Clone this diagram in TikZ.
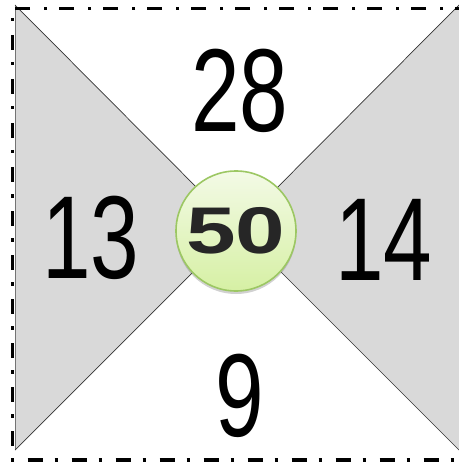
\documentclass[tikz,border=0pt]{standalone}
\usepackage{fontspec}
\setmainfont{Liberation Sans}
\usetikzlibrary{shadows,shadings}
\definecolor{panelgray}{HTML}{D9D9D9}
\definecolor{ringgreen}{HTML}{9CC763}
\definecolor{ballTop}{HTML}{F3FAE6}
\definecolor{ballBot}{HTML}{D6F0A4}
\tikzset{
  numlabel/.style={font=\fontsize{118}{118}\selectfont, xscale=0.74, inner sep=0pt, text=black},
  ball/.style={circle, minimum size=120pt, inner sep=0pt, draw=ringgreen, line width=1.6pt,
    top color=ballTop, bottom color=ballBot,
    drop shadow={shadow xshift=0pt, shadow yshift=-3pt, opacity=0.3, fill=black!60}},
  balltext/.style={font=\fontsize{66}{66}\selectfont\bfseries, xscale=1.35, text=black!85},
  diag/.style={draw=black!80, line width=0.7pt},
  frame/.style={line width=3.5pt, dash pattern=on 15pt off 12pt on 3.5pt off 13.5pt}
}
\begin{document}
\begin{tikzpicture}[x=1pt, y=-1pt]
\useasboundingbox (0,0) rectangle (458,462);
\coordinate (TL) at (15,5);
\coordinate (TR) at (470,5);
\coordinate (BR) at (470,450);
\coordinate (BL) at (15,450);
\coordinate (C) at (237,228);
\coordinate (TRc) at (459,5);
\coordinate (BRc) at (459,450);
\fill[panelgray] (TL) -- (C) -- (BL) -- cycle;
\fill[panelgray] (TRc) -- (C) -- (BRc) -- (BR) -- (TR) -- cycle;
\draw[draw=black!55, line width=0.5pt] (TL) -- (BL);
\draw[diag] (TL) -- (C) -- (BRc);
\draw[diag] (TRc) -- (C) -- (BL);
\draw[frame] (470,8.5) -- (12.5,8.5) -- (12.5,460) -- (470,460);
\node[numlabel] (top) at (240,91) {28};
\node[numlabel] (left) at (91,238) {13};
\node[numlabel] (right) at (384,240) {14};
\node[numlabel] (bottom) at (240,396) {9};
\node[ball] (centre) at (236,231) {};
\node[balltext] (sum) at (centre) {50};
\end{tikzpicture}
\end{document}
